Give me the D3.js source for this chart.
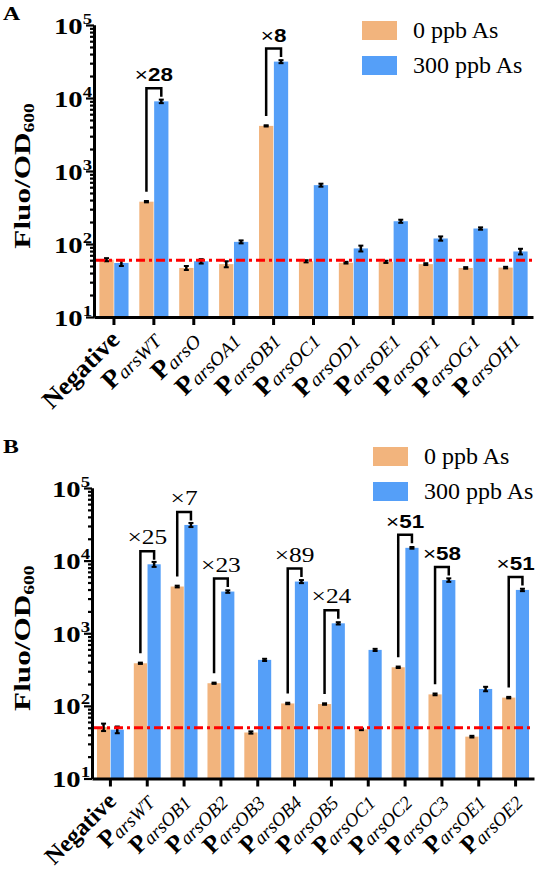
<!DOCTYPE html>
<html><head><meta charset="utf-8">
<script src="https://cdn.jsdelivr.net/npm/d3@7"></script>
<style>body{margin:0;background:#fff}
.serif{font-family:"Liberation Serif","Times New Roman","DejaVu Serif",serif}
.sans{font-family:"Liberation Sans",Arial,"DejaVu Sans",sans-serif}
</style>
</head><body>
<svg id="c" width="535" height="874"></svg>
<script>
// ---------- Data ----------
const seriesNames = ["0 ppb As", "300 ppb As"];
const yTickExps = [1, 2, 3, 4, 5];

const catsA = ["Negative","arsWT","arsO","arsOA1","arsOB1","arsOC1","arsOD1","arsOE1","arsOF1","arsOG1","arsOH1"];
const zeroA = [61, 380, 47, 53, 4150, 58, 55.5, 57, 53, 47, 47.5];
const treatA = [55, 9000, 58, 107, 31500, 640, 87, 205, 119, 163, 79];
const errZeroA = [3, 8, 3, 5, 80, 2, 1.5, 2, 1.5, 1.2, 1.2];
const errTreatA = [5, 500, 4, 5, 1500, 30, 8, 10, 8, 6, 7];
const foldIdxA = [1, 4];
const foldTextA = ["28", "8"];
const foldBoldA = [true, true];
const refA = 60;

const catsB = ["Negative","arsWT","arsOB1","arsOB2","arsOB3","arsOB4","arsOB5","arsOC1","arsOC2","arsOC3","arsOE1","arsOE2"];
const zeroB = [51, 386, 4400, 205, 43, 108, 106, 47.5, 340, 144, 37.7, 130];
const treatB = [47, 8900, 31000, 3750, 430, 5150, 1370, 590, 15000, 5400, 171, 3950];
const errZeroB = [6, 8, 120, 4, 1.5, 2.5, 2.5, 1.2, 8, 4, 1, 3];
const errTreatB = [5, 700, 2000, 150, 15, 250, 50, 20, 400, 300, 12, 150];
const foldIdxB = [1, 2, 3, 5, 6, 8, 9, 11];
const foldTextB = ["25", "7", "23", "89", "24", "51", "58", "51"];
const foldBoldB = [false, false, false, false, false, true, true, true];
const refB = 50;

// ---------- Style ----------
const ORANGE = "#F2B47D", BLUE = "#559FF8";
const svg = d3.select("#c");

function stext(parent, x, y, rot, sx, cls) {
  return parent.append("g").attr("transform", `translate(${x},${y}) rotate(${rot}) scale(${sx},1)`)
    .append("text").attr("class", cls);
}

function panel(opt) {
  const {cats, zero, treat, errZero, errTreat, foldIdx, foldText, foldBold, ref,
         x0, x1, yTop, yBot, letter, letterY, legendY, labelSize, labelStretch} = opt;
  const g = svg.append("g");
  const x = d3.scaleBand().domain(cats).range([x0, x1]).paddingInner(0.27).paddingOuter(0.135);
  const xs = d3.scaleBand().domain(["z","t"]).range([0, x.bandwidth()]).paddingInner(0.04);
  const y = d3.scaleLog().domain([10, 1e5]).range([yBot, yTop]);

  const rows = cats.map((c, i) => ({c, z: zero[i], t: treat[i], ez: errZero[i], et: errTreat[i]}));
  const grp = g.selectAll(".grp").data(rows).join("g").attr("transform", d => `translate(${x(d.c)},0)`);
  grp.append("rect").attr("x", xs("z")).attr("width", xs.bandwidth())
    .attr("y", d => y(d.z)).attr("height", d => y(10) - y(d.z)).attr("fill", ORANGE);
  grp.append("rect").attr("x", xs("t")).attr("width", xs.bandwidth())
    .attr("y", d => y(d.t)).attr("height", d => y(10) - y(d.t)).attr("fill", BLUE);

  function eb(sel, key, ekey, sub) {
    const cx = xs(sub) + xs.bandwidth() / 2;
    sel.append("line").attr("x1", cx).attr("x2", cx)
      .attr("y1", d => y(d[key] - d[ekey])).attr("y2", d => y(d[key] + d[ekey]))
      .attr("stroke", "#000").attr("stroke-width", 2.5);
    [-1, 1].forEach(s => sel.append("line").attr("x1", cx - 2.5).attr("x2", cx + 2.5)
      .attr("y1", d => y(d[key] + s * d[ekey])).attr("y2", d => y(d[key] + s * d[ekey]))
      .attr("stroke", "#000").attr("stroke-width", 2));
  }
  eb(grp, "z", "ez", "z");
  eb(grp, "t", "et", "t");

  g.append("line").attr("x1", x0 + 2).attr("x2", x1).attr("y1", y(ref)).attr("y2", y(ref))
    .attr("stroke", "#FF0000").attr("stroke-width", 3).attr("stroke-dasharray", "9,4,3,4");

  const minors = [];
  for (let e = 1; e < 5; e++) for (let m = 2; m <= 9; m++) minors.push(m * Math.pow(10, e));
  const majors = yTickExps.map(e => Math.pow(10, e));
  const ya1 = g.append("g").attr("transform", `translate(${x0},0)`)
    .call(d3.axisLeft(y).tickValues(minors).tickSize(4).tickSizeOuter(0).tickFormat(""));
  const ya2 = g.append("g").attr("transform", `translate(${x0},0)`)
    .call(d3.axisLeft(y).tickValues(majors).tickSize(8).tickSizeOuter(0).tickFormat(""));
  [ya1, ya2].forEach(a => { a.selectAll("line").attr("stroke-width", 2.2); a.select(".domain").attr("stroke-width", 3); });
  yTickExps.forEach(e => {
    const t = stext(g, x0 - 2, y(Math.pow(10, e)) + 8.5, 0, 1.25, "serif")
      .attr("text-anchor", "end").attr("font-weight", "bold").attr("font-size", 23);
    t.append("tspan").text("10");
    t.append("tspan").attr("font-size", 15).attr("dy", -10).text(e);
  });

  const xa = g.append("g").attr("transform", `translate(0,${yBot})`)
    .call(d3.axisBottom(x).tickSize(8).tickSizeOuter(0).tickFormat(""));
  xa.selectAll("line").attr("stroke-width", 3);
  xa.select(".domain").attr("stroke-width", 3);
  cats.forEach((c, i) => {
    const cx = x(c) + x.bandwidth() / 2;
    const t = stext(g, cx + 7, yBot + 24, -45, labelStretch, "serif").attr("text-anchor", "end");
    if (c === "Negative") {
      t.append("tspan").attr("font-weight", "bold").attr("font-size", labelSize).text(c);
    } else {
      t.append("tspan").attr("font-weight", "bold").attr("font-size", labelSize + 1).text("P");
      t.append("tspan").attr("font-style", "italic").attr("font-size", 19).attr("dy", 2).text(c);
    }
  });

  const yt = stext(g, 30, (yTop + yBot) / 2 + 5, -90, 1.3, "serif")
    .attr("text-anchor", "middle").attr("font-weight", "bold").attr("font-size", 24);
  yt.append("tspan").text("Fluo/OD");
  yt.append("tspan").attr("font-size", 15).attr("dy", 4).text("600");

  foldIdx.forEach((i, k) => {
    const c = cats[i];
    const lx = x(c) + xs("z") + xs.bandwidth() / 2;
    const rx = x(c) + xs("t") + xs.bandwidth() / 2;
    const top = y(treat[i]) - 13;
    g.append("path")
      .attr("d", `M${lx},${y(zero[i]) - 10}V${top}H${rx}V${y(treat[i]) - 4.5}`)
      .attr("fill", "none").attr("stroke", "#000").attr("stroke-width", 2.5);
    if (foldBold[k]) {
      const t = stext(g, (lx + rx) / 2, top - 7, 0, 1.18, "sans").attr("text-anchor", "middle").attr("font-size", 19);
      t.append("tspan").text("×");
      t.append("tspan").attr("font-weight", "bold").text(foldText[k]);
    } else {
      stext(g, (lx + rx) / 2, top - 7, 0, 1.27, "serif").attr("text-anchor", "middle").attr("font-size", 20)
        .text("×" + foldText[k]);
    }
  });

  const lg = g.append("g").attr("transform", `translate(${opt.legendX},${legendY})`);
  [ORANGE, BLUE].forEach((col, k) => {
    lg.append("rect").attr("x", 0).attr("y", k * 35).attr("width", 35).attr("height", 19).attr("fill", col);
    lg.append("text").attr("class", "serif").attr("x", 51).attr("y", k * 35 + 17).attr("font-size", 24)
      .text(seriesNames[k]);
  });

  stext(svg, 3, letterY, 0, 1.25, "serif").attr("font-weight", "bold").attr("font-size", 19).text(letter);
}

panel({cats: catsA, zero: zeroA, treat: treatA, errZero: errZeroA, errTreat: errTreatA,
  foldIdx: foldIdxA, foldText: foldTextA, foldBold: foldBoldA, ref: refA,
  x0: 94, x1: 533, yTop: 25, yBot: 317, letter: "A", letterY: 20, legendX: 362, legendY: 21,
  labelSize: 25, labelStretch: 1.05});
panel({cats: catsB, zero: zeroB, treat: treatB, errZero: errZeroB, errTreat: errTreatB,
  foldIdx: foldIdxB, foldText: foldTextB, foldBold: foldBoldB, ref: refB,
  x0: 92, x1: 534, yTop: 488, yBot: 778.5, letter: "B", letterY: 453, legendX: 373, legendY: 447,
  labelSize: 24, labelStretch: 1.0});
</script>
</body></html>
